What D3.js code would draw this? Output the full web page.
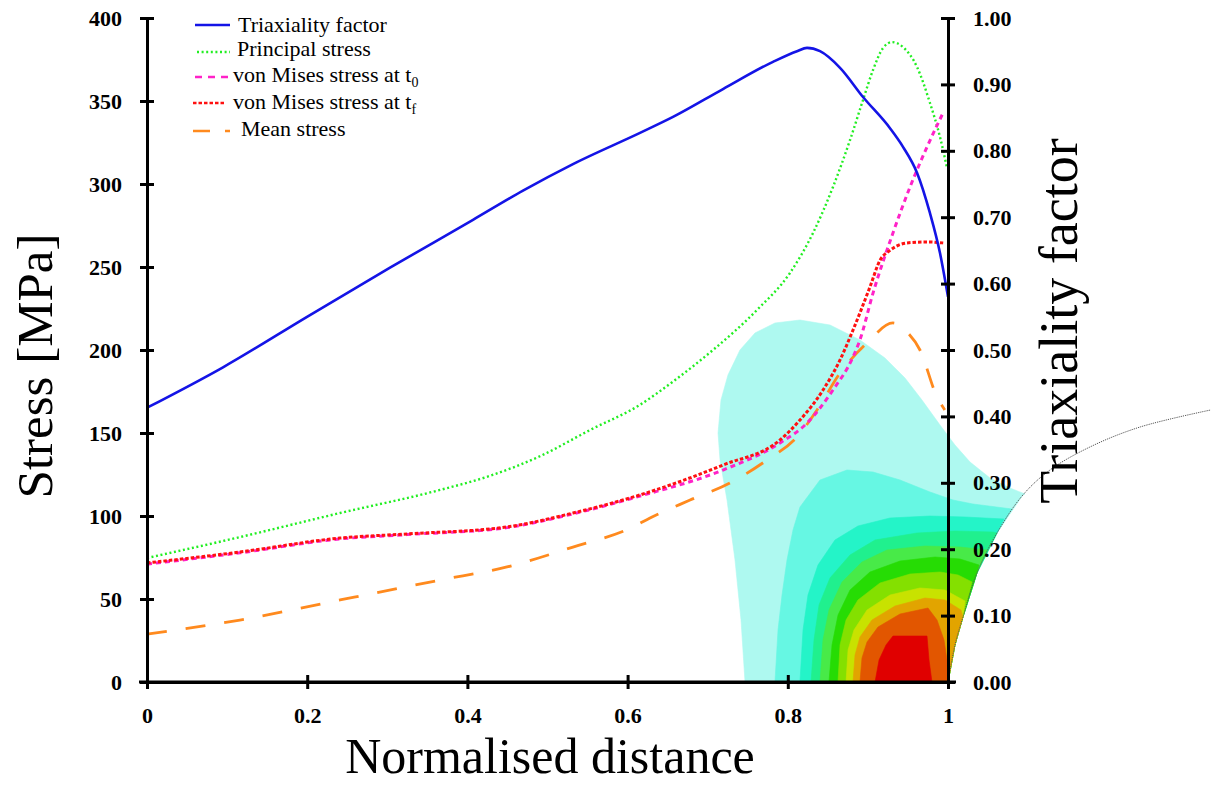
<!DOCTYPE html>
<html><head><meta charset="utf-8">
<script src="https://cdn.jsdelivr.net/npm/d3@7"></script>
<style>
html,body{margin:0;padding:0;background:#fff;}
svg{display:block;}
text{font-family:"Liberation Serif","Times New Roman",serif;}
</style></head><body>
<svg id="chart" width="1211" height="785"></svg>
<script>
// ---------- tick labels ----------
const xTicks = [0, 0.2, 0.4, 0.6, 0.8, 1];
const stressTicks = [0, 50, 100, 150, 200, 250, 300, 350, 400];
const triaxTicks = [0, 0.1, 0.2, 0.3, 0.4, 0.5, 0.6, 0.7, 0.8, 0.9, 1.0];

// ---------- series (x = normalised distance) ----------
const triaxX = [0, 0.0949, 0.1998, 0.3034, 0.407, 0.4694, 0.5318, 0.6155, 0.6567, 0.7191, 0.7815, 0.8115, 0.824, 0.8402, 0.8652, 0.8939, 0.9276, 0.9438, 0.9613, 0.9775, 0.99, 1.0];
const triaxY = [0.413, 0.474, 0.550, 0.624, 0.696, 0.740, 0.780, 0.827, 0.851, 0.893, 0.934, 0.950, 0.955, 0.950, 0.925, 0.881, 0.834, 0.806, 0.767, 0.706, 0.646, 0.580];

const principalX = [0, 0.1161, 0.241, 0.3658, 0.4282, 0.4906, 0.5531, 0.6155, 0.6567, 0.7066, 0.7615, 0.8027, 0.8315, 0.8564, 0.8777, 0.8939, 0.9064, 0.9189, 0.9301, 0.9438, 0.9613, 0.9775, 0.99, 0.9988];
const principalY = [74.7, 87.3, 101.8, 115.7, 124.2, 136.0, 151.8, 167.0, 181.0, 200.0, 224.1, 246.4, 270.5, 298.2, 326.5, 350.6, 368.7, 381.9, 385.5, 382.5, 370.5, 348.8, 328.3, 309.6];

const vmT0X = [0, 0.116, 0.241, 0.3246, 0.4494, 0.5318, 0.6155, 0.7191, 0.7903, 0.824, 0.8564, 0.8814, 0.89, 0.9064, 0.9313, 0.9526, 0.9738, 0.9938];
const vmT0Y = [71.0, 77.8, 86.2, 88.8, 93.0, 101.3, 112.0, 127.7, 144.0, 156.0, 175.9, 195.8, 206.0, 234.3, 270.5, 298.2, 322.3, 342.8];

const vmTfX = [0, 0.116, 0.241, 0.3246, 0.4494, 0.5318, 0.6155, 0.7191, 0.7903, 0.8152, 0.844, 0.8652, 0.8814, 0.9026, 0.9151, 0.9276, 0.9488, 0.9738, 0.994];
const vmTfY = [71.7, 78.3, 86.7, 89.2, 93.4, 101.8, 112.7, 130.7, 145.8, 157.8, 175.9, 194.0, 212.0, 238.0, 254.0, 260.0, 264.5, 265.1, 264.5];

const meanX = [0, 0.116, 0.241, 0.3658, 0.4494, 0.5318, 0.6067, 0.628, 0.678, 0.7278, 0.774, 0.8115, 0.8365, 0.8652, 0.8989, 0.9313, 0.9488, 0.965, 0.9863, 0.996];
const meanY = [28.9, 37.3, 49.4, 61.4, 69.3, 81.3, 93.4, 98.8, 109.6, 119.9, 133.7, 147.6, 163.9, 186.1, 204.2, 216.3, 210.8, 200.0, 171.7, 163.9];

// ---------- notch boundary (x, stress) ----------
const notchX = [1.0, 1.0087, 1.0187, 1.0362, 1.0612, 1.0936, 1.1273, 1.1773, 1.2397, 1.3283];
const notchY = [0, 22.3, 39.2, 65.7, 89.8, 112.7, 127.7, 141.6, 153.6, 163.9];

// ---------- contour band outlines (x, stress), outer to inner ----------
const bandColors = ["#aef9f0", "#66f7e3", "#24f4c8", "#20f08e", "#48ea48", "#26dc04", "#84e000", "#c8e200", "#e2a400", "#e25600", "#e00000"];
const band1 = [[0.7466,0],[0.7416,37.35],[0.7341,73.49],[0.7241,109.64],[0.7154,133.73],[0.7129,150.0],[0.7166,169.88],[0.7253,184.94],[0.7403,200.0],[0.7590,210.24],[0.7840,216.27],[0.8152,218.07],[0.8527,215.06],[0.8901,206.02],[0.9213,195.18],[0.9463,183.13],[0.9675,169.88],[0.9900,154.82],[1.0087,142.77],[1.0275,132.53],[1.0524,122.89],[1.0774,116.87],[1.0961,113.25]];
const band2 = [[0.7840,0],[0.7878,31.33],[0.7928,52.41],[0.7990,73.49],[0.8065,91.57],[0.8152,105.42],[0.8402,121.69],[0.8739,127.71],[0.9064,126.51],[0.9401,121.69],[0.9775,114.46],[1.0062,109.64],[1.0312,107.23],[1.0799,104.22]];
const band3 = [[0.8152,0],[0.8190,31.33],[0.8252,52.41],[0.8377,70.48],[0.8589,85.54],[0.8876,93.98],[0.9276,98.80],[0.9775,100.0],[1.0212,99.40],[1.0699,98.19]];
const band4 = [[0.8290,0],[0.8327,25.30],[0.8390,46.39],[0.8527,62.65],[0.8777,76.51],[0.9089,85.54],[0.9613,89.76],[1.0087,90.96],[1.0562,90.36]];
const band5 = [[0.8402,0],[0.8439,25.30],[0.8514,43.37],[0.8677,60.24],[0.8926,72.29],[0.9238,79.52],[0.9713,81.93],[1.0150,81.33],[1.0487,79.52]];
const band6 = [[0.8514,0],[0.8552,22.29],[0.8627,40.36],[0.8777,55.42],[0.9026,66.27],[0.9401,72.89],[0.9838,75.30],[1.0150,74.10],[1.0387,70.48]];
const band7 = [[0.8627,0],[0.8652,22.29],[0.8727,37.35],[0.8876,49.40],[0.9151,59.64],[0.9526,65.06],[0.9900,66.27],[1.0125,64.46],[1.0300,60.24]];
const band8 = [[0.8727,0],[0.8752,19.28],[0.8826,31.33],[0.8989,43.37],[0.9276,52.41],[0.9650,56.63],[0.9963,55.42],[1.0212,48.80]];
const band9 = [[0.8814,0],[0.8839,16.27],[0.8901,27.11],[0.9051,37.35],[0.9338,45.78],[0.9713,50.60],[0.9963,49.40],[1.0162,43.37]];
const band10 = [[0.8901,0],[0.8926,14.46],[0.8989,24.10],[0.9126,33.13],[0.9401,40.96],[0.9750,44.58],[0.9863,37.35],[0.9950,25.30],[0.9988,13.25],[1.0,0]];
const band11 = [[0.9089,0],[0.9139,13.25],[0.9226,22.29],[0.9313,27.71],[0.9738,27.71],[0.9763,13.25],[0.9800,0]];
const bands = [band1, band2, band3, band4, band5, band6, band7, band8, band9, band10, band11];

// ---------- legend ----------
const legendLabels = ["Triaxiality factor", "Principal stress", "von Mises stress at t", "von Mises stress at t", "Mean stress"];
const legendSubs = ["", "", "0", "f", ""];

// ---------- drawing ----------
const svg = d3.select("#chart");
svg.append("rect").attr("width", 1211).attr("height", 785).attr("fill", "#fff");

const x = d3.scaleLinear().domain([0, 1]).range([147, 948]);
const yL = d3.scaleLinear().domain([0, 400]).range([682, 18]);
const yR = d3.scaleLinear().domain([0, 1]).range([682, 18]);

const notch = notchX.map((v, i) => [v, notchY[i]]);

// contour bands
const polyLine = d3.line().x(d => x(d[0])).y(d => yL(d[1])).curve(d3.curveLinearClosed);
bands.forEach((b, i) => {
  const last = b[b.length - 1];
  const tail = notch.filter(p => p[1] < last[1]).reverse();
  svg.append("path").attr("d", polyLine(b.concat(tail))).attr("fill", bandColors[i]).attr("stroke", bandColors[i]).attr("stroke-width", 0.6);
});

// notch arc
svg.append("path")
  .attr("d", d3.line().x(d => x(d[0])).y(d => yL(d[1])).curve(d3.curveCatmullRom)(notch))
  .attr("fill", "none").attr("stroke", "#555").attr("stroke-width", 1).attr("stroke-dasharray", "1.2,1");

// series
const styles = [
  {color: "#1414e6", dash: null, w: 2.6},
  {color: "#22ee22", dash: "2,2.6", w: 2.4},
  {color: "#ff22c8", dash: "5,4", w: 3},
  {color: "#ff1010", dash: "3.5,2", w: 3},
  {color: "#ff8a1e", dash: "20,19", w: 2.8}
];
function drawSeries(xs, ys, yScale, st) {
  const pts = xs.map((v, i) => [v, ys[i]]);
  const p = svg.append("path")
    .attr("d", d3.line().x(d => x(d[0])).y(d => yScale(d[1])).curve(d3.curveMonotoneX)(pts))
    .attr("fill", "none").attr("stroke", st.color).attr("stroke-width", st.w);
  if (st.dash) p.attr("stroke-dasharray", st.dash);
}
drawSeries(meanX, meanY, yL, styles[4]);
drawSeries(principalX, principalY, yL, styles[1]);
drawSeries(vmT0X, vmT0Y, yL, styles[2]);
drawSeries(vmTfX, vmTfY, yL, styles[3]);
drawSeries(triaxX, triaxY, yR, styles[0]);

// axes
const tickFont = "bold 22px 'Liberation Serif', 'Times New Roman', serif";
function styleAxis(g, orient) {
  g.select(".domain").attr("stroke", "#000").attr("stroke-width", 3);
  g.selectAll(".tick line").attr("stroke", "#000").attr("stroke-width", 3);
  if (orient === "v") g.selectAll(".tick line").attr("x1", -7).attr("x2", 7);
  else g.selectAll(".tick line").attr("y1", -7).attr("y2", 7);
  g.selectAll(".tick text").style("font", tickFont).attr("fill", "#000");
}
const gL = svg.append("g").attr("transform", "translate(147,0)")
  .call(d3.axisLeft(yL).tickValues(stressTicks).tickFormat(d3.format("d")).tickSizeInner(7).tickSizeOuter(0).tickPadding(18));
styleAxis(gL, "v");
const gR = svg.append("g").attr("transform", "translate(948,0)")
  .call(d3.axisRight(yR).tickValues(triaxTicks).tickFormat(d3.format(".2f")).tickSizeInner(7).tickSizeOuter(0).tickPadding(18));
styleAxis(gR, "v");
const xAxisScale = d3.scaleLinear().domain([0, 1]).range([0, 801]);
const gB = svg.append("g").attr("transform", "translate(147,682)")
  .call(d3.axisBottom(xAxisScale).tickValues(xTicks).tickFormat(d => String(d)).tickSizeInner(7).tickSizeOuter(0).tickPadding(18));
styleAxis(gB, "h");
svg.append("line").attr("x1", 139).attr("x2", 956).attr("y1", 682).attr("y2", 682).attr("stroke", "#000").attr("stroke-width", 3);

// axis titles
svg.append("text").attr("transform", "translate(52,366) rotate(-90)").attr("text-anchor", "middle")
  .style("font-size", "51px").text("Stress [MPa]");
svg.append("text").attr("x", 550).attr("y", 773).attr("text-anchor", "middle")
  .style("font-size", "50px").text("Normalised distance");
svg.append("text").attr("transform", "translate(1077,321) rotate(-90)").attr("text-anchor", "middle")
  .style("font-size", "54px").text("Triaxiality factor");

// legend
const legY = [25, 52, 77, 103, 131];
const legTextY = [32, 56, 82, 109, 136];
const legTextX = [238, 237, 233, 233, 241];
const legLineX = [[195, 230], [197, 230], [195, 228], [193, 226], [193, 230]];
const legDash = [null, "2,2.6", "7,6", "3.5,2", "17,15"];
const legColors = ["#1414e6", "#22ee22", "#ff22c8", "#ff1010", "#ff8a1e"];
legendLabels.forEach((lab, i) => {
  const l = svg.append("line").attr("x1", legLineX[i][0]).attr("x2", legLineX[i][1])
    .attr("y1", legY[i]).attr("y2", legY[i]).attr("stroke", legColors[i]).attr("stroke-width", 2.6);
  if (legDash[i]) l.attr("stroke-dasharray", legDash[i]);
  const t = svg.append("text").attr("x", legTextX[i]).attr("y", legTextY[i]).style("font-size", "22px").text(lab);
  if (legendSubs[i]) t.append("tspan").attr("dy", 5).style("font-size", "14px").text(legendSubs[i]);
});
</script>
</body></html>
